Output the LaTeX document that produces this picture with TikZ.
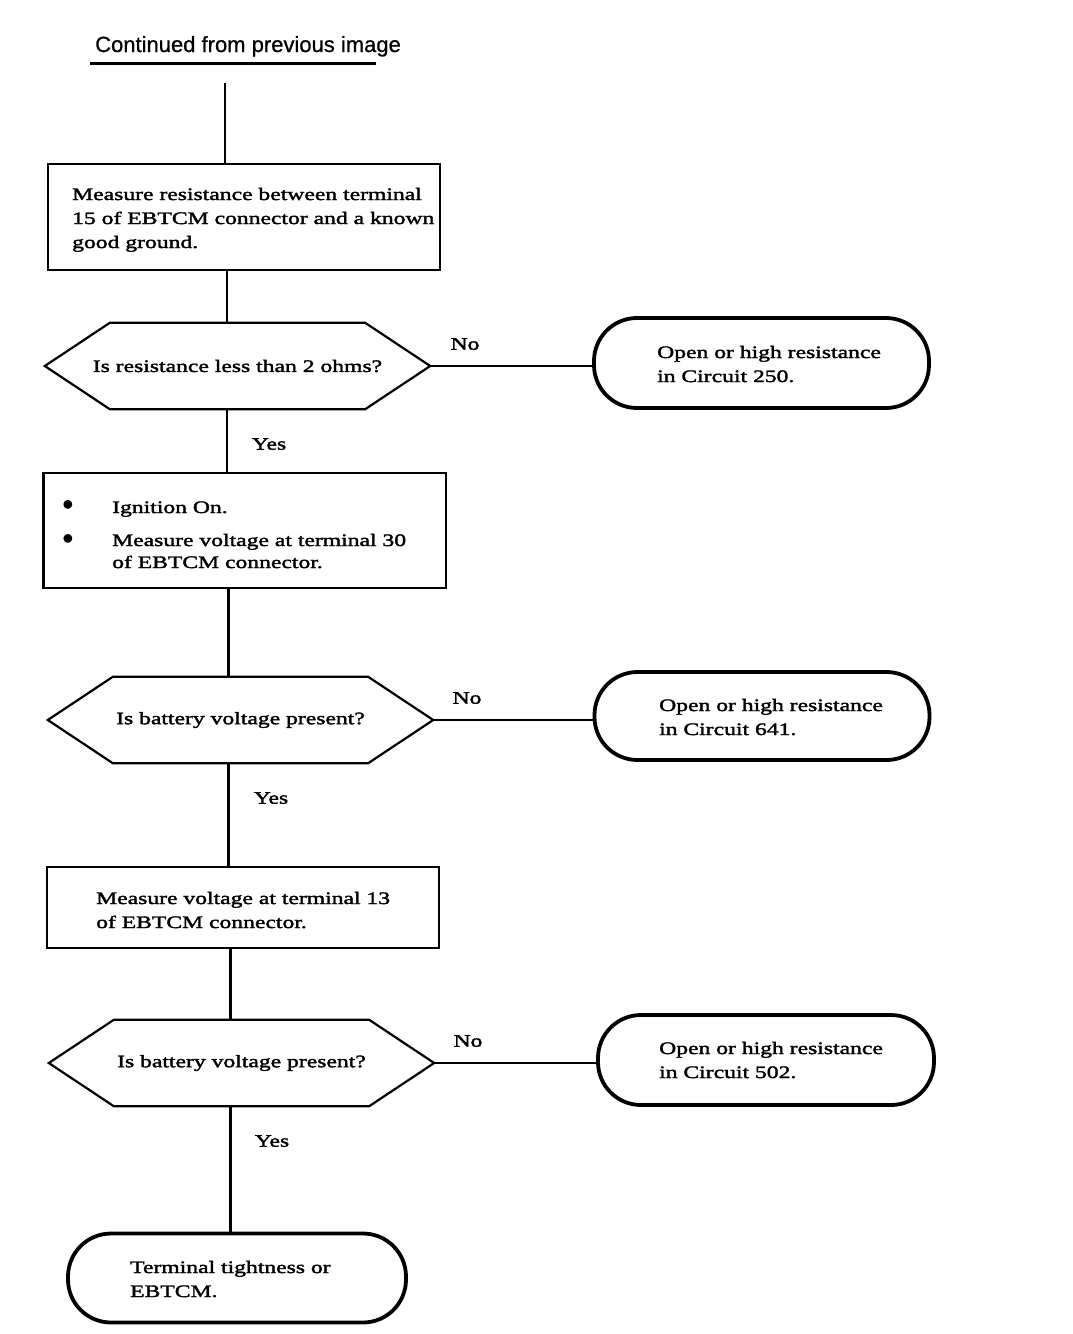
\documentclass[tikz,border=0pt]{standalone}
\usepackage{fontspec}
\setmainfont{Liberation Serif}[FakeStretch=1.35,FakeBold=2]
\newfontfamily\titlefont{Liberation Sans}[FakeBold=0.8]
\newfontfamily\bulfont{Liberation Sans}
\begin{document}
\begin{tikzpicture}[x=1pt,y=-1pt,
  txt/.style={font=\fontsize{17.5}{24}\selectfont, inner sep=0pt, align=left},
  procbox/.style={draw, line width=2.4pt, inner sep=0pt},
  hexbox/.style={inner sep=0pt, minimum width=385pt, minimum height=86pt, font=\fontsize{17.5}{24}\selectfont},
  hexline/.style={line width=2.2pt, line join=miter},
  termbox/.style={draw, line width=3.8pt, rounded corners=43pt, inner sep=0pt},
  conn/.style={line width=2.2pt},
  lbl/.style={font=\fontsize{17.5}{24}\selectfont, inner sep=0pt},
  bul/.style={font=\bulfont\fontsize{32}{32}\selectfont, inner sep=0pt}]
\useasboundingbox (0,0) rectangle (1072,1334);

% title
\node[font=\titlefont\fontsize{22}{24}\selectfont, anchor=base west, inner sep=0pt] (title) at (95,52) {Continued from previous image};
\coordinate (u1) at (90,63.5);
\coordinate (u2) at (376,63.5);
\draw[conn] (u1) -- (u2);

% shapes
\node[procbox, minimum width=392pt, minimum height=106pt] (b1) at (244,217) {};
\node[hexbox] (h1) at (237.5,366) {Is resistance less than 2 ohms?};
\node[termbox, minimum width=335pt, minimum height=90pt] (t1) at (761.5,363) {};
\node[procbox, minimum width=402.5pt, minimum height=115pt] (b2) at (244.75,530.5) {};
\node[hexbox] (h2) at (240.5,720) {Is battery voltage present?};
\node[termbox, minimum width=335pt, minimum height=88pt] (t2) at (762,716) {};
\node[procbox, minimum width=392pt, minimum height=81pt] (b3) at (243,907.5) {};
\node[hexbox] (h3) at (241.5,1063) {Is battery voltage present?};
\node[termbox, minimum width=336pt, minimum height=90pt] (t3) at (766,1060) {};
\node[termbox, minimum width=338pt, minimum height=89pt] (t4) at (237,1278) {};

\foreach \h in {h1,h2,h3}
  \draw[hexline] (\h.west) -- ([xshift=65pt]\h.north west) -- ([xshift=-65pt]\h.north east) -- (\h.east) -- ([xshift=-65pt]\h.south east) -- ([xshift=65pt]\h.south west) -- cycle;

% texts (base anchor = baseline of the last line)
\node[txt, anchor=base west] (b1t) at (72,248) {Measure resistance between terminal\\15 of EBTCM connector and a known\\good ground.};
\node[txt, anchor=base west] (t1t) at (657,382) {Open or high resistance\\in Circuit 250.};
\node[bul] (bu1) at (68,508) {•};
\node[bul] (bu2) at (68,542) {•};
\node[txt, anchor=base west] (b2a) at (112,513) {Ignition On.};
\node[txt, anchor=base west] (b2b) at (112,568) {Measure voltage at terminal 30\\[-2pt]of EBTCM connector.};
\node[txt, anchor=base west] (t2t) at (659,735) {Open or high resistance\\in Circuit 641.};
\node[txt, anchor=base west] (b3t) at (96,928) {Measure voltage at terminal 13\\of EBTCM connector.};
\node[txt, anchor=base west] (t3t) at (659,1078) {Open or high resistance\\in Circuit 502.};
\node[txt, anchor=base west] (t4t) at (130,1297) {Terminal tightness or\\EBTCM.};

% labels
\node[lbl] (no1) at (465,344) {No};
\node[lbl] (no2) at (467,698) {No};
\node[lbl] (no3) at (468,1041) {No};
\node[lbl] (yes1) at (269,444) {Yes};
\node[lbl] (yes2) at (271,798) {Yes};
\node[lbl] (yes3) at (272,1141) {Yes};

% connectors
\coordinate (top) at (225,83);
\coordinate (x1) at (227,0);
\coordinate (x2) at (228.5,0);
\coordinate (x3) at (230.5,0);
\draw[conn] (top) -- (top |- b1.north);
\draw[conn] (x1 |- b1.south) -- (x1 |- h1.north);
\draw[conn] (x1 |- h1.south) -- (x1 |- b2.north);
\draw[conn] (x2 |- b2.south) -- (x2 |- h2.north);
\draw[conn] (x2 |- h2.south) -- (x2 |- b3.north);
\draw[conn] (x3 |- b3.south) -- (x3 |- h3.north);
\draw[conn] (x3 |- h3.south) -- (x3 |- t4.north);
\draw[conn] (h1.east) -- (h1.east -| t1.west);
\draw[conn] (h2.east) -- (h2.east -| t2.west);
\draw[conn] (h3.east) -- (h3.east -| t3.west);
\end{tikzpicture}
\end{document}
